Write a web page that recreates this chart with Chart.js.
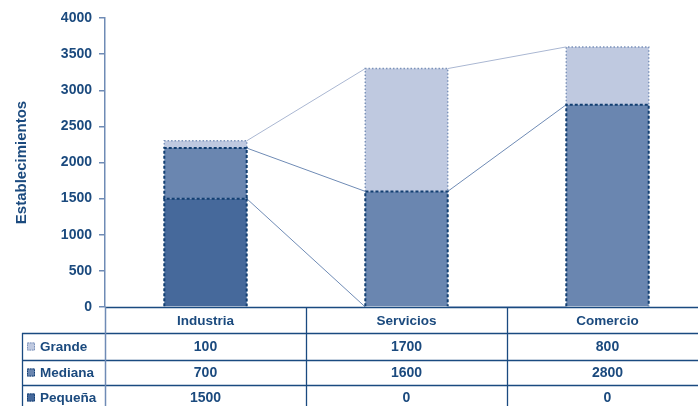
<!DOCTYPE html>
<html>
<head>
<meta charset="utf-8">
<script src="https://cdn.jsdelivr.net/npm/chart.js@4.4.0/dist/chart.umd.min.js"></script>
<style>
  html, body { margin: 0; padding: 0; background: #fff; overflow: hidden; }
  #wrap { width: 708px; height: 406px; position: relative; }
</style>
</head>
<body>
<div id="wrap"><canvas id="chart"></canvas></div>
<script>
// Establecimientos por sector y tamaño
const categories = ['Industria', 'Servicios', 'Comercio'];
const pequena = [1500, 0, 0];
const mediana = [700, 1600, 2800];
const grande  = [100, 1700, 800];
const yTicks  = [0, 500, 1000, 1500, 2000, 2500, 3000, 3500, 4000];

const TEXT = '#1b4a7e';
const AXIS = '#6f8bb5';
const FONT = '"Liberation Sans", Arial, sans-serif';

// estilo de cada serie: relleno, borde y patrón de trazo
const series = [
    { label: 'Pequeña', data: pequena, fill: '#46699b', stroke: '#123f72', dash: [3, 2], lw: 2, line: '#6f8bb5' },
    { label: 'Mediana', data: mediana, fill: '#6a86b0', stroke: '#123f72', dash: [3, 2], lw: 2, line: '#6f8bb5' },
    { label: 'Grande',  data: grande,  fill: '#bfc9e0', stroke: '#7c93ba', dash: [1.5, 2], lw: 1.5, line: '#aab7d2' }
];

// líneas de serie entre barras + bordes punteados
const serieLines = {
    id: 'serieLines',
    beforeDatasetsDraw(chart) {
        const ctx = chart.ctx;
        ctx.save();
        chart.data.datasets.forEach((ds, i) => {
            const bars = chart.getDatasetMeta(i).data;
            ctx.strokeStyle = series[i].line;
            ctx.lineWidth = 1;
            for (let j = 0; j < bars.length - 1; j++) {
                const a = bars[j], b = bars[j + 1];
                ctx.beginPath();
                ctx.moveTo(a.x + a.width / 2, a.y);
                ctx.lineTo(b.x - b.width / 2, b.y);
                ctx.stroke();
            }
        });
        ctx.restore();
    },
    afterDatasetsDraw(chart) {
        const ctx = chart.ctx;
        ctx.save();
        for (let i = chart.data.datasets.length - 1; i >= 0; i--) {
            const s = series[i];
            chart.getDatasetMeta(i).data.forEach((bar, j) => {
                if (!s.data[j]) return;
                const l = bar.x - bar.width / 2, r = bar.x + bar.width / 2;
                ctx.strokeStyle = s.stroke;
                ctx.lineWidth = s.lw;
                ctx.setLineDash(s.dash);
                ctx.beginPath();
                ctx.moveTo(l, bar.base);
                ctx.lineTo(l, bar.y);
                ctx.lineTo(r, bar.y);
                ctx.lineTo(r, bar.base);
                ctx.stroke();
            });
        }
        ctx.restore();
    }
};

// tabla de datos debajo del eje
const dataTable = {
    id: 'dataTable',
    afterDraw(chart) {
        const ctx = chart.ctx;
        const area = chart.chartArea;
        const xs = chart.scales.x;
        const top = area.bottom;
        const rowH = [26, 27, 25, 25];
        const left = 22;
        const right = chart.width;
        const colW = (area.right - area.left) / categories.length;
        const ys = [top];
        rowH.forEach(h => ys.push(ys[ys.length - 1] + h));

        ctx.save();
        ctx.lineWidth = 1.3;
        ctx.strokeStyle = '#1a4a80';
        ctx.beginPath();
        ctx.moveTo(area.left, top + 0.5); ctx.lineTo(right, top + 0.5);
        for (let r = 1; r < ys.length; r++) {
            ctx.moveTo(left, ys[r] + 0.5); ctx.lineTo(right, ys[r] + 0.5);
        }
        ctx.moveTo(left + 0.5, ys[1]); ctx.lineTo(left + 0.5, chart.height);
        for (let c = 1; c < categories.length; c++) {
            const x = Math.round(area.left + colW * c) + 0.5;
            ctx.moveTo(x, top); ctx.lineTo(x, chart.height);
        }
        ctx.stroke();

        ctx.strokeStyle = AXIS;
        ctx.lineWidth = 1.5;
        ctx.beginPath();
        ctx.moveTo(area.left + 0.5, top); ctx.lineTo(area.left + 0.5, chart.height);
        ctx.stroke();

        ctx.fillStyle = TEXT;
        ctx.textAlign = 'center';
        ctx.textBaseline = 'middle';
        ctx.font = 'bold 13.5px ' + FONT;
        categories.forEach((c, j) => ctx.fillText(c, xs.getPixelForValue(j), (ys[0] + ys[1]) / 2 + 1));

        const rows = [2, 1, 0];
        rows.forEach((si, r) => {
            const s = series[si];
            const cy = (ys[r + 1] + ys[r + 2]) / 2 + 1;
            // clave de la leyenda
            ctx.fillStyle = s.fill;
            ctx.fillRect(27, cy - 5, 8, 8);
            ctx.strokeStyle = s.stroke;
            ctx.lineWidth = 1;
            ctx.setLineDash([1.5, 1]);
            ctx.strokeRect(27.5, cy - 4.5, 7, 7);
            ctx.setLineDash([]);
            ctx.fillStyle = TEXT;
            ctx.textAlign = 'left';
            ctx.font = 'bold 13.5px ' + FONT;
            ctx.fillText(s.label, 40, cy);
            ctx.textAlign = 'center';
            ctx.font = 'bold 14px ' + FONT;
            s.data.forEach((v, j) => ctx.fillText(String(v), xs.getPixelForValue(j), cy));
        });
        ctx.restore();
    }
};

new Chart(document.getElementById('chart'), {
    type: 'bar',
    data: {
        labels: categories,
        datasets: series.map(s => ({
            label: s.label,
            data: s.data,
            backgroundColor: s.fill,
            borderWidth: 0,
            barPercentage: 1,
            categoryPercentage: 0.41
        }))
    },
    options: {
        responsive: true,
        maintainAspectRatio: false,
        animation: false,
        layout: { padding: { top: 18, bottom: 99, left: 0, right: 0 } },
        plugins: { legend: { display: false }, tooltip: { enabled: false } },
        scales: {
            x: { stacked: true, display: false },
            y: {
                stacked: true,
                min: 0,
                max: 4000,
                afterBuildTicks: scale => { scale.ticks = yTicks.map(v => ({ value: v })); },
                afterFit: scale => { scale.width = 105; },
                border: { color: AXIS, width: 1.5 },
                grid: { drawOnChartArea: false, color: AXIS, tickLength: 6, lineWidth: 1.5 },
                ticks: {
                    color: TEXT,
                    padding: 7,
                    font: { family: FONT, size: 14, weight: 'bold' },
                    callback: v => String(v)
                },
                title: {
                    display: true,
                    text: 'Establecimientos',
                    color: TEXT,
                    font: { family: FONT, size: 15, weight: 'bold' },
                    padding: { top: 13, bottom: 0 }
                }
            }
        }
    },
    plugins: [serieLines, dataTable]
});
</script>
</body>
</html>
